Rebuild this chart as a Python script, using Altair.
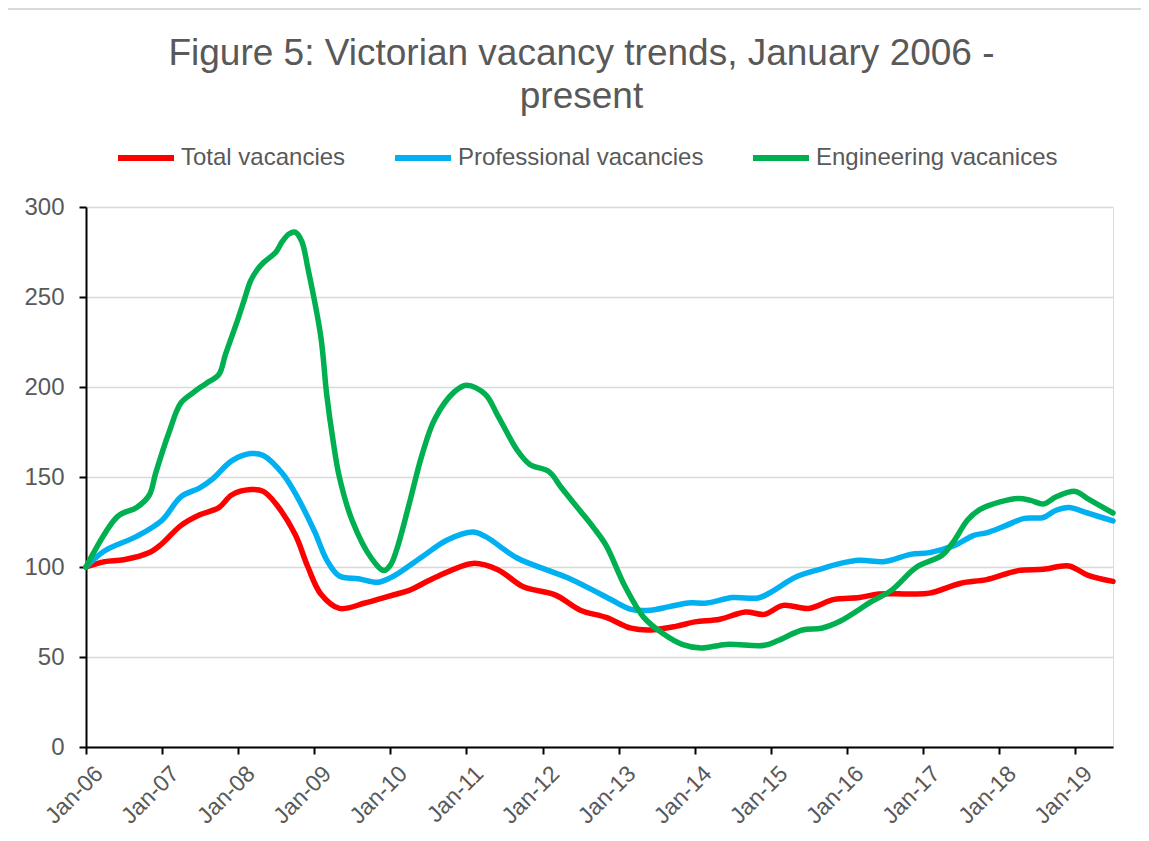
import altair as alt
import pandas as pd

# ---- data (month offsets from Jan-2006, index values) ----
series_names = ["Total vacancies", "Professional vacancies", "Engineering vacanices"]
series_colors = ["#FF0000", "#00B0F0", "#00B050"]

total_months = [0, 3, 6, 10, 12, 15, 18, 21, 23, 26, 28, 30, 33, 35, 37, 40, 44, 47, 49, 51,
                55, 61, 65, 69, 74, 78, 82, 86, 89, 93, 96, 100, 104, 107, 110, 114, 118, 122,
                125, 130, 133, 138, 142, 147, 151, 155, 158, 162]
total_values = [100, 103, 104, 108, 113, 123, 129, 133, 140, 143, 142, 135, 118, 100, 85, 77, 80, 83, 85, 87,
                94, 102, 98.5, 89, 84.5, 76, 72, 66, 65, 67, 69.5, 71, 75, 73.7, 78.7, 77, 82, 83,
                85, 85, 85.5, 91, 93, 98, 98.7, 100.6, 95.5, 92]

prof_months = [0, 3, 8, 12, 15, 18, 20, 23, 26, 28, 31, 33, 36, 38, 40, 43, 46, 48, 49, 53,
               57, 61, 63, 68, 73, 76, 80, 83, 86, 89, 92, 95, 98, 102, 106, 108, 112, 116,
               119, 122, 126, 130, 133, 137, 140, 142, 145, 148, 151, 153, 155, 158, 162]
prof_values = [100, 109, 117, 126, 139, 144, 149, 159, 163, 162, 152, 141, 120, 104, 95, 93.5, 91.5, 94, 96, 105.6,
               115, 119.4, 117, 105, 98, 94, 87, 81.5, 76.5, 76, 78, 80, 80, 83, 82.8, 86, 94.4, 99,
               102, 103.7, 103, 107, 108, 112, 117.6, 119, 123, 127, 127.5, 131.5, 133, 130, 125.6]

eng_months = [0, 5, 8, 10, 11, 13, 15, 17, 19, 21, 22, 24, 25, 26, 27, 28, 30, 31, 32, 33, 34, 35,
              37, 38, 39, 40, 42, 45, 47, 48, 49, 51, 53, 55, 58, 60, 63, 65, 68, 70, 73, 75,
              78, 80, 82, 85, 88, 91, 94, 97, 101, 107, 109, 113, 116, 119, 124, 127, 131, 135,
              137, 139, 141, 144, 147, 149, 151, 153, 156, 158, 162]
eng_values = [100, 128, 133, 140, 152, 174, 191, 197, 202, 207, 218, 238, 249, 259, 265, 269, 275, 281, 285, 286, 281, 266,
              228, 196, 170, 150, 126, 105, 98, 101, 110, 135, 162, 182, 197, 201, 196, 184, 165, 157, 153, 144,
              131, 122, 112, 89, 72, 63, 57, 55, 57, 56.5, 59, 65, 66, 70, 81, 87, 100, 106.5,
              115, 126, 132, 136, 138, 137, 135, 139, 142, 138, 130]

year_ticks = list(range(2006, 2020))
y_ticks = [0, 50, 100, 150, 200, 250, 300]

start = pd.Timestamp("2006-01-01")
frames = []
for name, months, values in [(series_names[0], total_months, total_values),
                             (series_names[1], prof_months, prof_values),
                             (series_names[2], eng_months, eng_values)]:
    frames.append(pd.DataFrame({
        "date": [start + pd.DateOffset(months=m) for m in months],
        "value": values,
        "series": name,
    }))
df = pd.concat(frames, ignore_index=True)
df["date"] = df["date"].dt.strftime("%Y-%m-%d")

end_date = df["date"].max()
tick_values = [alt.DateTime(year=y, month=1, date=1) for y in year_ticks]

FONT = "Liberation Sans"
GREY = "#595959"

lines = alt.Chart(df).mark_line(
    strokeWidth=5.5, interpolate="catmull-rom", strokeCap="round", strokeJoin="round"
).encode(
    x=alt.X("date:T",
            scale=alt.Scale(domain=["2006-01-01", end_date], nice=False),
            axis=alt.Axis(values=tick_values, format="%b-%y", labelAngle=-45,
                          title=None, grid=False, domainColor="black", domainWidth=2,
                          tickColor="black", tickWidth=2, tickSize=7,
                          labelFont=FONT, labelFontSize=23, labelColor=GREY,
                          labelPadding=8, labelOffset=5,
                          labelAlign="right", labelBaseline="top")),
    y=alt.Y("value:Q",
            scale=alt.Scale(domain=[0, 300], nice=False),
            axis=alt.Axis(values=y_ticks, title=None, grid=True, gridColor="#D9D9D9",
                          gridWidth=1.5, domainColor="black", domainWidth=2,
                          tickColor="black", tickWidth=2, tickSize=7,
                          labelFont=FONT, labelFontSize=24, labelColor=GREY,
                          labelPadding=15)),
    color=alt.Color("series:N",
                    scale=alt.Scale(domain=series_names, range=series_colors),
                    legend=alt.Legend(title=None, orient="none", direction="horizontal",
                                      legendX=29, legendY=-80,
                                      symbolType="stroke", symbolSize=3136,
                                      symbolStrokeWidth=6, labelFont=FONT,
                                      labelFontSize=24, labelColor=GREY, labelLimit=600,
                                      labelOffset=4, columnPadding=37)),
    order=alt.Order("series_order:Q"),
).transform_calculate(
    series_order="indexof(['Total vacancies','Professional vacancies','Engineering vacanices'], datum.series)"
)

border_left = alt.Chart(df).mark_rule(color="#D9D9D9", strokeWidth=1.5).encode(
    x=alt.value(-79), y=alt.value(-198), y2=alt.value(640))
border_top = alt.Chart(df).mark_rule(color="#D9D9D9", strokeWidth=1.5).encode(
    x=alt.value(-79), x2=alt.value(1070), y=alt.value(-198))

chart = alt.layer(border_left, border_top, lines).properties(
    width=1027, height=540,
    autosize=alt.AutoSizeParams(type="none"),
    padding={"left": 78, "top": 199, "right": 28, "bottom": 86},
    title=alt.Title(["Figure 5: Victorian vacancy trends, January 2006 -", "present"],
                    font=FONT, fontSize=37, fontWeight="normal", color=GREY,
                    anchor="middle", frame="group", offset=0, dy=108,
                    lineHeight=43, dx=-18),
).configure_view(stroke=None).configure(background="white")

chart.save("out.html", embed_options={"renderer": "svg", "actions": False})
